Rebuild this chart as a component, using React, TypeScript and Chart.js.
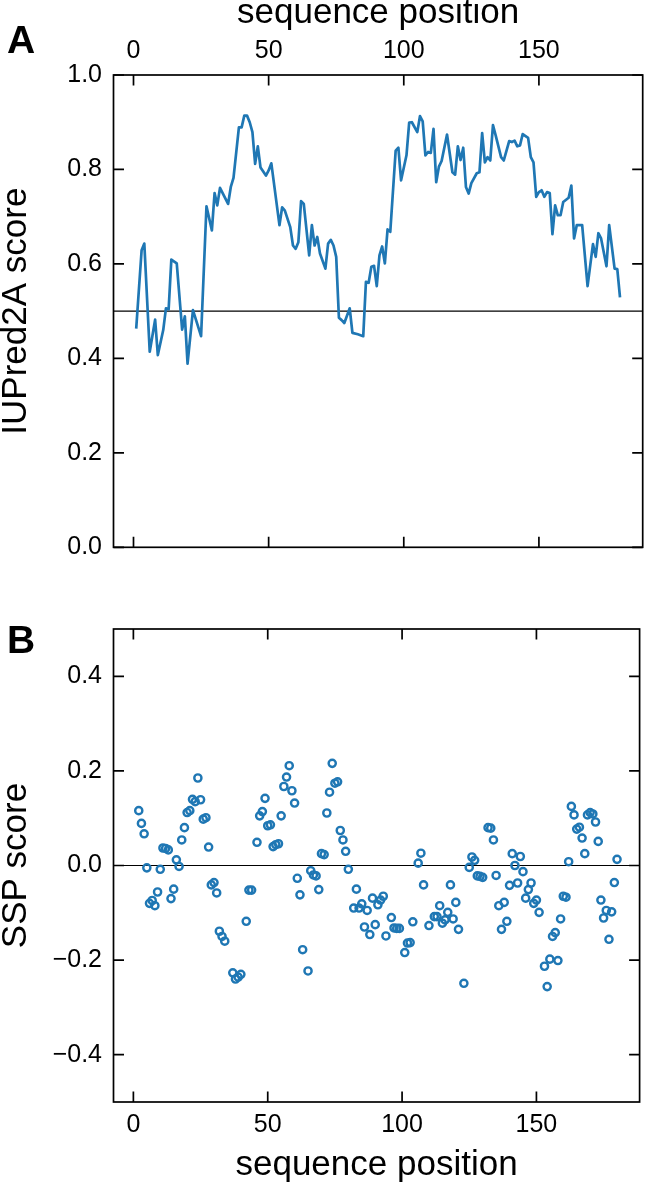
import React, { useEffect, useRef } from 'react';
import { Chart, registerables } from 'chart.js';

Chart.register(...registerables);

const FONT = "'Liberation Sans', Arial, Helvetica, sans-serif";
const BLUE = '#1f77b4';

// shared x axis (sequence position)
const xMin = -7.4;
const xMax = 188.4;
const xTickValues = [0, 50, 100, 150];

// panel A: IUPred2A disorder score
const iupredTickValues = [0, 0.2, 0.4, 0.6, 0.8, 1.0];
const iupredThreshold = 0.5;
const iupredPosition = [
  1, 3, 4, 6, 8, 9, 11, 12, 13, 14,
  16, 18, 19, 20, 22, 25, 27, 29, 30, 31,
  32, 35, 36, 37, 39, 40, 41, 42, 43, 44,
  45, 46, 47, 49, 50, 51, 54, 55, 56, 58,
  59, 60, 61, 62, 63, 65, 66, 67, 68, 69,
  71, 72, 73, 74, 75, 76, 77, 78, 80, 81,
  83, 85, 86, 87, 88, 89, 90, 91, 92, 93,
  94, 95, 97, 98, 99, 101, 102, 103, 105, 106,
  107, 108, 109, 110, 111, 112, 113, 114, 116, 118,
  119, 120, 121, 122, 123, 124, 125, 127, 128, 129,
  130, 131, 132, 133, 134, 136, 137, 139, 140, 141,
  142, 143, 144, 146, 147, 148, 149, 150, 151, 152,
  153, 154, 155, 156, 157, 158, 159, 161, 162, 163,
  164, 166, 168, 170, 171, 172, 173, 175, 176, 177,
  178, 179, 180,
];
const iupredScore = [
  0.463, 0.629, 0.643, 0.414, 0.482, 0.407, 0.460, 0.506, 0.504, 0.609,
  0.601, 0.461, 0.489, 0.389, 0.502, 0.447, 0.722, 0.671, 0.750, 0.724,
  0.761, 0.727, 0.763, 0.782, 0.889, 0.889, 0.914, 0.914, 0.900, 0.879,
  0.812, 0.849, 0.804, 0.787, 0.798, 0.813, 0.682, 0.720, 0.713, 0.678,
  0.639, 0.632, 0.646, 0.733, 0.727, 0.618, 0.682, 0.639, 0.657, 0.622,
  0.590, 0.643, 0.651, 0.639, 0.615, 0.486, 0.481, 0.475, 0.506, 0.454,
  0.451, 0.447, 0.562, 0.560, 0.594, 0.596, 0.553, 0.618, 0.637, 0.601,
  0.673, 0.668, 0.840, 0.846, 0.777, 0.830, 0.899, 0.900, 0.879, 0.913,
  0.902, 0.830, 0.837, 0.835, 0.886, 0.773, 0.806, 0.818, 0.874, 0.794,
  0.789, 0.849, 0.820, 0.846, 0.763, 0.749, 0.771, 0.792, 0.794, 0.877,
  0.815, 0.826, 0.819, 0.894, 0.872, 0.826, 0.819, 0.860, 0.858, 0.861,
  0.849, 0.851, 0.875, 0.867, 0.826, 0.815, 0.742, 0.752, 0.756, 0.742,
  0.752, 0.750, 0.663, 0.724, 0.703, 0.703, 0.731, 0.740, 0.766, 0.654,
  0.682, 0.682, 0.553, 0.642, 0.615, 0.665, 0.654, 0.595, 0.682, 0.636,
  0.590, 0.589, 0.529,
];

// panel B: SSP score
const sspTickValues = [-0.4, -0.2, 0, 0.2, 0.4];
const sspBaseline = 0;
const sspPosition = [
  2, 3, 4, 5, 6, 7, 8, 9, 10, 11,
  12, 13, 14, 15, 16, 17, 18, 19, 20, 21,
  22, 23, 24, 25, 26, 27, 28, 29, 30, 31,
  32, 33, 34, 37, 38, 39, 40, 42, 43, 44,
  46, 47, 48, 49, 50, 51, 52, 53, 54, 55,
  56, 57, 58, 59, 60, 61, 62, 63, 65, 66,
  67, 68, 69, 70, 71, 72, 73, 74, 75, 76,
  77, 78, 79, 80, 82, 83, 84, 85, 86, 87,
  88, 89, 90, 91, 92, 93, 94, 96, 97, 98,
  99, 101, 102, 103, 104, 106, 107, 108, 110, 112,
  113, 114, 115, 116, 117, 118, 119, 120, 121, 123,
  125, 126, 127, 128, 129, 130, 132, 133, 134, 135,
  136, 137, 138, 139, 140, 141, 142, 143, 144, 145,
  146, 147, 148, 149, 150, 151, 153, 154, 155, 156,
  157, 158, 159, 160, 161, 162, 163, 164, 165, 166,
  167, 168, 169, 170, 171, 172, 173, 174, 175, 176,
  177, 178, 179, 180,
];
const sspScore = [
  0.116, 0.089, 0.067, -0.005, -0.080, -0.074, -0.085, -0.056, -0.008, 0.037,
  0.036, 0.033, -0.070, -0.050, 0.012, -0.002, 0.054, 0.080, 0.112, 0.116,
  0.140, 0.135, 0.185, 0.139, 0.098, 0.101, 0.039, -0.041, -0.036, -0.058,
  -0.139, -0.150, -0.160, -0.227, -0.240, -0.236, -0.230, -0.118, -0.052, -0.052,
  0.049, 0.105, 0.114, 0.142, 0.084, 0.086, 0.040, 0.044, 0.046, 0.105,
  0.167, 0.187, 0.211, 0.158, 0.132, -0.027, -0.062, -0.178, -0.223, -0.011,
  -0.020, -0.022, -0.051, 0.025, 0.023, 0.111, 0.155, 0.216, 0.174, 0.177,
  0.074, 0.054, 0.030, -0.008, -0.090, -0.050, -0.090, -0.081, -0.130, -0.095,
  -0.146, -0.069, -0.125, -0.083, -0.073, -0.065, -0.149, -0.110, -0.132, -0.133,
  -0.133, -0.184, -0.164, -0.163, -0.119, 0.005, 0.026, -0.041, -0.127, -0.108,
  -0.108, -0.085, -0.122, -0.115, -0.099, -0.041, -0.113, -0.078, -0.135, -0.249,
  -0.004, 0.018, 0.011, -0.022, -0.023, -0.025, 0.080, 0.079, 0.054, -0.021,
  -0.085, -0.135, -0.078, -0.118, -0.042, 0.025, 0.000, -0.037, 0.019, -0.013,
  -0.069, -0.051, -0.037, -0.080, -0.073, -0.099, -0.213, -0.256, -0.198, -0.150,
  -0.142, -0.201, -0.113, -0.065, -0.067, 0.008, 0.125, 0.107, 0.077, 0.081,
  0.058, 0.025, 0.107, 0.112, 0.109, 0.092, 0.051, -0.073, -0.111, -0.095,
  -0.156, -0.098, -0.036, 0.013,
];

const fmtTick = (v: number) => {
  const s = Number(v).toFixed(1);
  return s.startsWith('-') ? '\u2212' + s.slice(1) : s;
};

// matplotlib-like box with inward ticks on all four sides
const boxTicks = {
  id: 'boxTicks',
  afterDraw(chart: any) {
    const { ctx, chartArea: a } = chart;
    const len = 10.5;
    ctx.save();
    ctx.strokeStyle = '#000';
    ctx.lineWidth = 1.7;
    ctx.strokeRect(a.left, a.top, a.right - a.left, a.bottom - a.top);
    ctx.beginPath();
    Object.values(chart.scales).forEach((scale: any) => {
      scale.ticks.forEach((t: any) => {
        const p = scale.getPixelForValue(t.value);
        if (scale.isHorizontal()) {
          ctx.moveTo(p, a.top);
          ctx.lineTo(p, a.top + len);
          ctx.moveTo(p, a.bottom);
          ctx.lineTo(p, a.bottom - len);
        } else {
          ctx.moveTo(a.left, p);
          ctx.lineTo(a.left + len, p);
          ctx.moveTo(a.right, p);
          ctx.lineTo(a.right - len, p);
        }
      });
    });
    ctx.stroke();
    ctx.restore();
  },
};

const tickFont = { family: FONT, size: 25 };
const titleFont = { family: FONT, size: 35 };

const xAxis = (position: 'top' | 'bottom', height: number, tickPad: number, titlePad: any) => ({
  type: 'linear',
  position,
  min: xMin,
  max: xMax,
  afterBuildTicks: (s: any) => {
    s.ticks = xTickValues.map((value) => ({ value }));
  },
  afterFit: (s: any) => {
    s.height = height;
  },
  grid: { display: false, drawTicks: false },
  border: { display: false },
  ticks: { font: tickFont, color: '#000', padding: tickPad, maxRotation: 0, autoSkip: false },
  title: { display: true, text: 'sequence position', font: titleFont, color: '#000', padding: titlePad },
});

const yAxis = (min: number, max: number, values: number[], label: string) => ({
  type: 'linear',
  position: 'left',
  min,
  max,
  afterBuildTicks: (s: any) => {
    s.ticks = values.map((value) => ({ value }));
  },
  afterFit: (s: any) => {
    s.width = 113.5;
  },
  grid: { display: false, drawTicks: false },
  border: { display: false },
  ticks: { font: tickFont, color: '#000', padding: 11.5, callback: (v: any) => fmtTick(v) },
  title: { display: true, text: label, font: titleFont, color: '#000', padding: { top: -5.1, bottom: 0 } },
});

const IupredChart: React.FC = () => {
  const canvasRef = useRef<HTMLCanvasElement>(null);

  useEffect(() => {
    if (!canvasRef.current) return;
    const chart = new Chart(canvasRef.current, {
      type: 'line',
      data: {
        datasets: [
          {
            data: iupredPosition.map((x, i) => ({ x, y: iupredScore[i] })),
            borderColor: BLUE,
            borderWidth: 2.7,
            borderJoinStyle: 'round',
            pointRadius: 0,
            tension: 0,
            fill: false,
          },
          {
            data: [
              { x: xMin, y: iupredThreshold },
              { x: xMax, y: iupredThreshold },
            ],
            borderColor: '#000',
            borderWidth: 1.2,
            pointRadius: 0,
            fill: false,
          },
        ],
      },
      options: {
        animation: false,
        responsive: true,
        maintainAspectRatio: false,
        layout: { padding: { top: 0, right: 3.3, bottom: 42.7, left: 0 } },
        plugins: { legend: { display: false }, tooltip: { enabled: false } },
        scales: {
          x: xAxis('top', 75, 9.25, { top: -7.6, bottom: 0 }),
          y: yAxis(0, 1, iupredTickValues, 'IUPred2A score'),
        } as any,
      },
      plugins: [boxTicks],
    } as any);
    return () => chart.destroy();
  }, []);

  return <canvas ref={canvasRef}></canvas>;
};

const SspChart: React.FC = () => {
  const canvasRef = useRef<HTMLCanvasElement>(null);

  useEffect(() => {
    if (!canvasRef.current) return;
    const chart = new Chart(canvasRef.current, {
      type: 'scatter',
      data: {
        datasets: [
          {
            data: sspPosition.map((x, i) => ({ x, y: sspScore[i] })),
            borderColor: BLUE,
            backgroundColor: 'rgba(0,0,0,0)',
            borderWidth: 2.4,
            pointRadius: 3.6,
          },
          {
            data: [
              { x: xMin, y: sspBaseline },
              { x: xMax, y: sspBaseline },
            ],
            showLine: true,
            borderColor: '#000',
            borderWidth: 1.2,
            pointRadius: 0,
          },
        ],
      },
      options: {
        animation: false,
        responsive: true,
        maintainAspectRatio: false,
        layout: { padding: { top: 39, right: 3.3, bottom: 0, left: 0 } },
        plugins: { legend: { display: false }, tooltip: { enabled: false } },
        scales: {
          x: xAxis('bottom', 83, 8.5, { top: 0, bottom: -0.9 }),
          y: yAxis(-0.5, 0.5, sspTickValues, 'SSP score'),
        } as any,
      },
      plugins: [boxTicks],
    } as any);
    return () => chart.destroy();
  }, []);

  return <canvas ref={canvasRef}></canvas>;
};

const panelLetter: React.CSSProperties = {
  position: 'absolute',
  left: 7,
  fontFamily: FONT,
  fontWeight: 'bold',
  fontSize: 39,
  lineHeight: '39px',
  color: '#000',
};

export default function App() {
  return (
    <div style={{ position: 'absolute', left: 0, top: 0, width: 646, height: 1185, background: '#fff' }}>
      <div style={{ position: 'absolute', left: 0, top: 0, width: 646, height: 590 }}>
        <IupredChart />
      </div>
      <div style={{ position: 'absolute', left: 0, top: 590, width: 646, height: 595 }}>
        <SspChart />
      </div>
      <div style={{ ...panelLetter, top: 20 }}>A</div>
      <div style={{ ...panelLetter, top: 620 }}>B</div>
    </div>
  );
}
